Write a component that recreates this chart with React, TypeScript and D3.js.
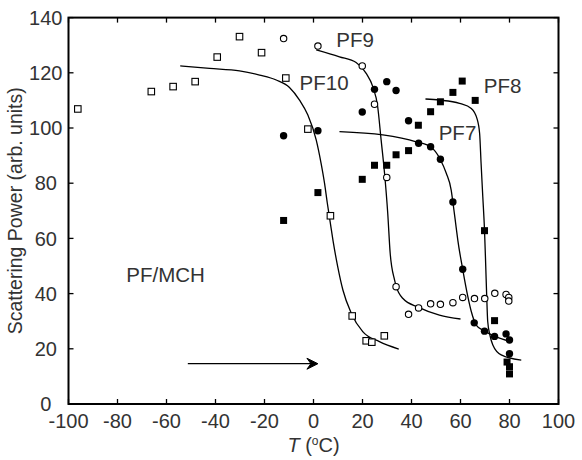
import React from "react";
import * as d3 from "d3";

// ---- data ----
const xTicks = [-100, -80, -60, -40, -20, 0, 20, 40, 60, 80, 100];
const yTicks = [0, 20, 40, 60, 80, 100, 120, 140];

// PF10 (open squares)
const pf10T = [-96.2, -66.2, -57.3, -48.3, -39.3, -30.2, -21.2, -11.3, -2.3, 6.9, 15.8, 21.5, 23.8, 28.9];
const pf10S = [106.9, 113.2, 115.0, 116.8, 125.7, 133.1, 127.3, 118.1, 99.6, 68.2, 31.9, 22.9, 22.4, 24.7];

// PF9 (open circles)
const pf9T = [-12.2, 1.8, 19.9, 24.9, 29.9, 33.7, 38.8, 42.9, 47.8, 51.8, 56.9, 60.9, 65.7, 69.9, 74.0, 78.6, 79.7, 79.7];
const pf9S = [132.4, 129.7, 122.5, 108.6, 82.1, 42.5, 32.5, 34.8, 36.3, 36.1, 36.7, 38.6, 38.2, 38.2, 40.1, 39.7, 38.6, 37.3];

// PF7 (filled circles)
const pf7T = [-12.2, 1.8, 19.9, 24.9, 29.9, 33.7, 38.8, 42.9, 47.8, 51.8, 56.9, 60.9, 65.6, 69.8, 73.9, 78.6, 80.0, 80.0];
const pf7S = [97.2, 99.0, 105.8, 114.0, 116.8, 113.6, 102.6, 94.5, 93.2, 88.7, 73.2, 48.8, 29.4, 26.4, 24.5, 25.4, 23.2, 18.2];

// PF8 (filled squares)
const pf8T = [-12.2, 1.8, 19.9, 24.9, 29.9, 33.7, 38.8, 42.8, 47.8, 51.8, 56.9, 60.7, 66.0, 69.8, 73.9, 79.0, 80.0, 80.0];
const pf8S = [66.5, 76.6, 81.4, 86.5, 86.5, 90.3, 91.8, 101.0, 105.9, 109.5, 112.9, 117.0, 110.0, 62.8, 30.2, 15.2, 13.5, 10.9];

// fitted curves
const fit10T = [-54.4, -42.4, -30.2, -22.0, -15.2, -9.8, -5.7, -2.3, 1.1, 3.1, 4.5, 5.6, 6.8, 8.0, 9.9, 12.0, 15.4, 20.1, 26.9, 34.8];
const fit10S = [122.5, 121.6, 120.7, 119.2, 117.4, 114.7, 110.1, 104.7, 95.7, 87.2, 80.0, 73.0, 66.0, 59.0, 49.7, 41.3, 32.9, 26.2, 22.6, 19.9];

const fit9T = [1.1, 10.6, 17.4, 21.5, 24.2, 26.2, 27.6, 29.0, 30.3, 31.3, 33.1, 36.4, 42.9, 51.4, 60.0];
const fit9S = [128.3, 125.8, 123.7, 119.8, 115.0, 107.7, 95.7, 83.6, 69.1, 54.6, 44.9, 38.3, 35.0, 32.2, 30.8];

const fit7T = [10.6, 28.3, 41.9, 47.8, 51.7, 54.2, 56.2, 56.9, 58.2, 58.9, 60.9, 63.0, 64.4, 66.5, 69.8, 73.9, 80.5];
const fit7S = [98.7, 97.5, 95.0, 93.2, 88.7, 83.6, 77.5, 73.1, 64.2, 59.4, 48.8, 38.9, 33.5, 28.5, 26.4, 24.6, 22.6];

const fit8T = [45.7, 51.4, 59.6, 64.4, 66.7, 67.8, 68.4, 69.1, 69.8, 70.3, 70.7, 71.1, 72.0, 73.2, 76.6, 84.8];
const fit8S = [110.5, 110.1, 108.9, 107.1, 103.5, 98.1, 87.2, 75.1, 63.0, 50.0, 38.9, 30.0, 25.0, 21.4, 17.8, 15.9];

// annotations (data coordinates)
const labelText = ["PF9", "PF10", "PF8", "PF7", "PF/MCH"];
const labelT = [9.3, -5.7, 69.5, 51.1, -76.4];
const labelS = [129.4, 113.8, 112.8, 95.7, 44.3];
const arrowT = [-51.3, 1.8];
const arrowS = [14.6, 14.6];

const W = 582;
const H = 460;
const M = { left: 68.5, right: 558.5, top: 17.6, bottom: 404 };
const FONT = "'Liberation Sans', Arial, Helvetica, sans-serif";
const TXT = "#333";

export default function App() {
  const x = d3.scaleLinear().domain([-100, 100]).range([M.left, M.right]);
  const y = d3.scaleLinear().domain([0, 140]).range([M.bottom, M.top]);

  const line = d3
    .line<[number, number]>()
    .x((d) => x(d[0]))
    .y((d) => y(d[1]))
    .curve(d3.curveMonotoneX);

  const zip = (a: number[], b: number[]) => a.map((v, i) => [v, b[i]] as [number, number]);
  const fits = [
    zip(fit10T, fit10S),
    zip(fit9T, fit9S),
    zip(fit7T, fit7S),
    zip(fit8T, fit8S),
  ];

  const tickLen = 5;
  const sq = 7;
  const osq = 6.5;

  const ax1 = x(arrowT[0]);
  const ax2 = x(arrowT[1]);
  const ay = y(arrowS[0]);

  return (
    <svg
      width={W}
      height={H}
      style={{ position: "absolute", left: 0, top: 0, background: "#fff" }}
      fontFamily={FONT}
    >
      <rect x={0} y={0} width={W} height={H} fill="#fff" />

      {/* fitted curves */}
      {fits.map((f, i) => (
        <path key={"f" + i} d={line(f) || ""} fill="none" stroke="#000" strokeWidth={1.3} />
      ))}

      {/* PF10 open squares */}
      {pf10T.map((t, i) => (
        <rect
          key={"s10" + i}
          x={x(t) - osq / 2}
          y={y(pf10S[i]) - osq / 2}
          width={osq}
          height={osq}
          fill="#fff"
          stroke="#000"
          strokeWidth={1.1}
        />
      ))}
      {/* PF9 open circles */}
      {pf9T.map((t, i) => (
        <circle key={"c9" + i} cx={x(t)} cy={y(pf9S[i])} r={3.2} fill="#fff" stroke="#000" strokeWidth={1.1} />
      ))}
      {/* PF7 filled circles */}
      {pf7T.map((t, i) => (
        <circle key={"c7" + i} cx={x(t)} cy={y(pf7S[i])} r={3.7} fill="#000" />
      ))}
      {/* PF8 filled squares */}
      {pf8T.map((t, i) => (
        <rect key={"s8" + i} x={x(t) - sq / 2} y={y(pf8S[i]) - sq / 2} width={sq} height={sq} fill="#000" />
      ))}

      {/* arrow */}
      <line x1={ax1} y1={ay} x2={ax2 - 4} y2={ay} stroke="#000" strokeWidth={1.3} />
      <path
        d={`M${ax2},${ay} L${ax2 - 11},${ay - 5.5} L${ax2 - 7},${ay} L${ax2 - 11},${ay + 5.5} Z`}
        fill="#000"
        stroke="#000"
        strokeWidth={1}
        strokeLinejoin="miter"
      />

      {/* frame */}
      <rect
        x={M.left}
        y={M.top}
        width={M.right - M.left}
        height={M.bottom - M.top}
        fill="none"
        stroke="#000"
        strokeWidth={2}
      />

      {/* ticks */}
      {xTicks.map((t) => (
        <g key={"xt" + t}>
          <line x1={x(t)} x2={x(t)} y1={M.bottom} y2={M.bottom - tickLen} stroke="#000" strokeWidth={1.3} />
          <line x1={x(t)} x2={x(t)} y1={M.top} y2={M.top + tickLen} stroke="#000" strokeWidth={1.3} />
          <text x={x(t)} y={427.5} textAnchor="middle" fontSize={20} fill={TXT}>
            {t}
          </text>
        </g>
      ))}
      {yTicks.map((t) => (
        <g key={"yt" + t}>
          <line x1={M.left} x2={M.left + tickLen} y1={y(t)} y2={y(t)} stroke="#000" strokeWidth={1.3} />
          <line x1={M.right} x2={M.right - tickLen} y1={y(t)} y2={y(t)} stroke="#000" strokeWidth={1.3} />
          <text x={45.8} y={y(t)} dy="0.36em" textAnchor="middle" fontSize={20} fill={TXT}>
            {t}
          </text>
        </g>
      ))}

      {/* axis titles */}
      <text
        transform={`translate(22,${(M.top + M.bottom) / 2}) rotate(-90)`}
        textAnchor="middle"
        fontSize={19.5}
        fill={TXT}
      >
        Scattering Power (arb. units)
      </text>
      <text x={(M.left + M.right) / 2} y={452} textAnchor="middle" fontSize={20} fill={TXT}>
        <tspan fontStyle="italic">T</tspan>
        <tspan> (</tspan>
        <tspan fontSize={12} dy={-7}>o</tspan>
        <tspan dy={7}>C)</tspan>
      </text>

      {/* labels */}
      {labelText.map((s, i) => (
        <text key={"l" + i} x={x(labelT[i])} y={y(labelS[i])} fontSize={20.5} fill={TXT}>
          {s}
        </text>
      ))}
    </svg>
  );
}
